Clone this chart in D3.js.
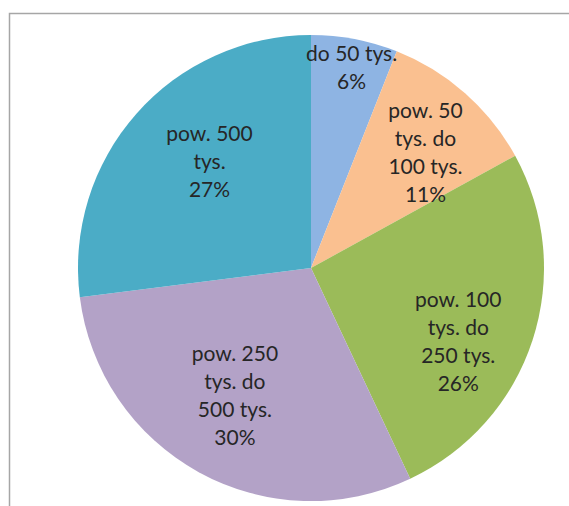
<!DOCTYPE html>
<html>
<head>
<meta charset="utf-8">
<script src="https://cdn.jsdelivr.net/npm/d3@7"></script>
<style>
  html, body { margin: 0; padding: 0; background: #ffffff; }
  svg { display: block; }
</style>
</head>
<body>
<svg id="chart" width="569" height="506"></svg>
<script>
// ---- data ----
const categories = ["do 50 tys.", "pow. 50 tys. do 100 tys.", "pow. 100 tys. do 250 tys.", "pow. 250 tys. do 500 tys.", "pow. 500 tys."];
const values = [6, 11, 26, 30, 27];
const labelLines = [
  ["do 50 tys."],
  ["pow. 50", "tys. do", "100 tys."],
  ["pow. 100", "tys. do", "250 tys."],
  ["pow. 250", "tys. do", "500 tys."],
  ["pow. 500", "tys."]
];

// ---- style / layout ----
const colors = ["#8EB4E3", "#FAC090", "#9BBB59", "#B3A2C7", "#4BACC6"];
const labelOffsets = [[11, -45], [10, 3], [-3, 25], [0, -11], [17, -2]];
const cx = 311, cy = 268, R = 233, labelR = 158, lineH = 28;

const svg = d3.select("#chart");

// frame
svg.append("path")
  .attr("d", "M9.5,506 L9.5,13.5 L569,13.5")
  .attr("fill", "none")
  .attr("stroke", "#a6a6a6")
  .attr("stroke-width", 1.5);

const total = d3.sum(values);
const pie = d3.pie().sort(null).value(d => d)(values);
const arc = d3.arc().innerRadius(0).outerRadius(R);
const labelArc = d3.arc().innerRadius(labelR).outerRadius(labelR);

const g = svg.append("g").attr("transform", `translate(${cx},${cy})`);

g.selectAll("path.slice")
  .data(pie)
  .join("path")
  .attr("class", "slice")
  .attr("d", arc)
  .attr("fill", (d, i) => colors[i]);

const fmt = d3.format(".0%");

const labels = g.selectAll("text.lbl")
  .data(pie)
  .join("text")
  .attr("class", "lbl")
  .attr("font-family", "Lato, 'Open Sans', sans-serif")
  .attr("font-size", 21)
  .attr("fill", "#262626")
  .attr("text-anchor", "middle")
  .each(function(d, i) {
    const c = labelArc.centroid(d);
    const x = c[0] + labelOffsets[i][0];
    const y = c[1] + labelOffsets[i][1];
    const lines = labelLines[i].concat([fmt(d.value / total)]);
    const y0 = y - (lines.length - 1) * lineH / 2;
    d3.select(this).selectAll("tspan")
      .data(lines)
      .join("tspan")
      .attr("x", x)
      .attr("y", (t, k) => y0 + k * lineH)
      .attr("dy", "0.35em")
      .text(t => t);
  });
</script>
</body>
</html>
